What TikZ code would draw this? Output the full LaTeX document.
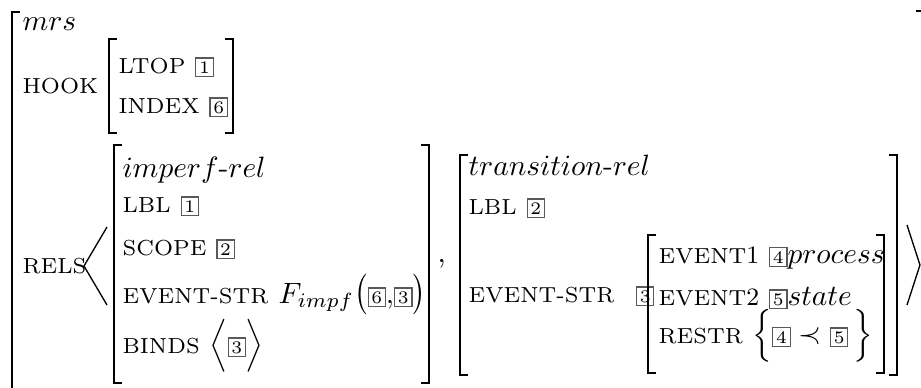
\documentclass[tikz,border=0pt]{standalone}
\usepackage{graphicx}
\tikzset{
  brk/.style={line width=0.6pt},
  ang/.style={line width=0.45pt},
  feat/.style={anchor=base west, inner sep=0pt},
}
\newcommand{\bx}[1]{{\setlength{\fboxsep}{0.9pt}\setlength{\fboxrule}{0.4pt}\fcolorbox{black!65}{white}{\fontsize{6}{7}\selectfont #1}}}
\newcommand{\attr}[1]{{\fontsize{7.4}{8}\selectfont #1}}
\newcommand{\dg}[1]{{\fontsize{8.5}{10}\selectfont #1}}
\newcommand{\openbrk}[3]{\draw[brk] (#1+8,#2) -| (#1,#3) -- (#1+8,#3);}
\newcommand{\closebrk}[3]{\draw[brk] (#1-8,#2) -| (#1,#3) -- (#1-8,#3);}
\begin{document}
\begin{tikzpicture}[x=0.34pt,y=-0.34pt]
\useasboundingbox (0,0) rectangle (921,387);
% outer mrs
\draw[brk] (20,12) -| (12,400);
\draw[brk] (916,11) -- (921,11);
\node[feat] (mrs) at (22,30) {$mrs$};
% hook
\node[feat] (hook) at (22,93) {\attr{HOOK}};
\openbrk{109}{39}{133}
\closebrk{233}{39}{133}
\node[feat] (ltop) at (118,73) {\attr{LTOP} \bx{1}};
\node[feat] (index) at (118,113) {\attr{INDEX} \bx{6}};
% rels
\node[feat] (rels) at (22,273) {\attr{RELS}};
\draw[ang] (107,227) -- (84,266) -- (107,305);
\draw[ang] (907,225) -- (920,265) -- (907,305);
% imperf-rel
\openbrk{114}{145}{383}
\closebrk{429}{145}{383}
\node[feat] (imperf) at (122,177) {$imperf\mbox{-}rel$};
\node[feat] (lbla) at (122,212) {\attr{LBL} \bx{1}};
\node[feat] (scope) at (122,255) {\attr{SCOPE} \bx{2}};
\node[feat] (evstra) at (122,303) {\attr{EVENT-STR}};
\node[feat] (fimpf) at (278,303) {$F_{impf}\scalebox{1}[1.15]{$\bigl($}\bx{6}{,}\bx{3}\scalebox{1}[1.15]{$\bigr)$}$};
\node[feat] (binds) at (122,353) {\attr{BINDS} $\Big\langle\bx{3}\Big\rangle$};
\node[feat] (comma) at (437,262) {,};
% transition-rel
\openbrk{460}{155}{375}
\closebrk{897}{155}{375}
\node[feat] (trans) at (468,175) {$transition\mbox{-}rel$};
\node[feat] (lblb) at (468,214) {\attr{LBL} \bx{2}};
\node[feat] (evstrb) at (468,302) {\attr{EVENT-STR}\hspace{4pt} \bx{3}};
% event structure
\openbrk{648}{235}{373}
\closebrk{884}{235}{373}
\node[feat] (evone) at (658,263) {\attr{EVENT}\dg{1} \bx{4}$process$};
\node[feat] (evtwo) at (658,305) {\attr{EVENT}\dg{2} \bx{5}$state$};
\node[feat] (restr) at (658,343) {\attr{RESTR} $\Big\{\bx{4}\prec\bx{5}\,\Big\}$};
\end{tikzpicture}
\end{document}
